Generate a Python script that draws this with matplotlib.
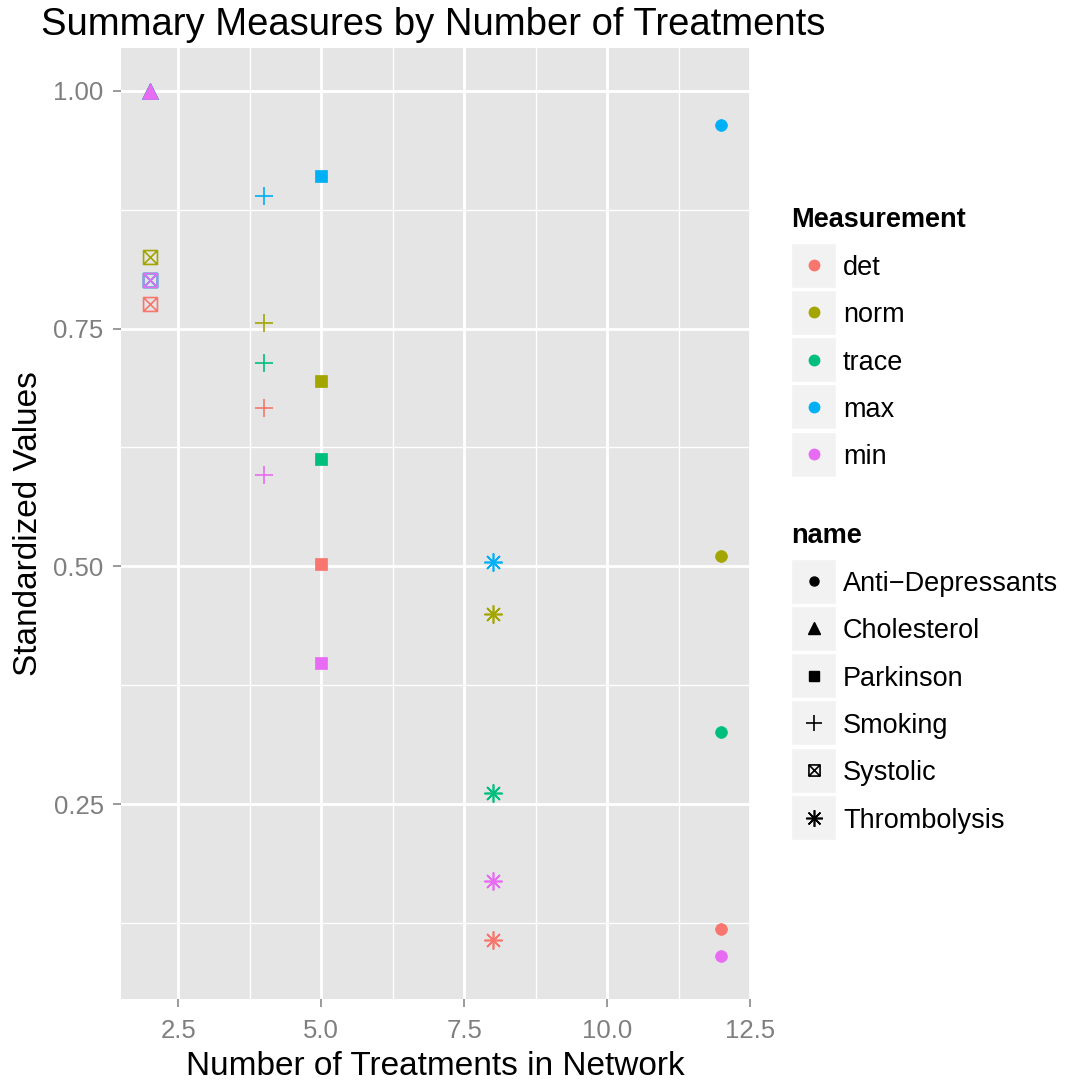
import matplotlib
matplotlib.use("Agg")
import matplotlib.pyplot as plt
from matplotlib.path import Path
from matplotlib.lines import Line2D
from matplotlib.patches import Rectangle

plt.rcParams['font.family'] = ['Liberation Sans', 'DejaVu Sans']

# ---------------- data ----------------
measurements = ["det", "norm", "trace", "max", "min"]
colors = ["#F8766D", "#A3A500", "#00BF7D", "#00B0F6", "#E76BF3"]
names = ["Anti\u2212Depressants", "Cholesterol", "Parkinson", "Smoking", "Systolic", "Thrombolysis"]
n_treat = [12, 2, 5, 4, 2, 8]
# values per name, in order det, norm, trace, max, min
vals_antidep = [0.119, 0.511, 0.326, 0.964, 0.0905]
vals_chol = [1.0, 1.0, 1.0, 1.0, 1.0]
vals_park = [0.502, 0.695, 0.613, 0.910, 0.398]
vals_smok = [0.666, 0.756, 0.714, 0.889, 0.596]
vals_syst = [0.7755, 0.825, 0.801, 0.801, 0.801]
vals_thromb = [0.107, 0.450, 0.2615, 0.505, 0.169]
all_vals = [vals_antidep, vals_chol, vals_park, vals_smok, vals_syst, vals_thromb]

x_ticks = [2.5, 5.0, 7.5, 10.0, 12.5]
x_labels = ["2.5", "5.0", "7.5", "10.0", "12.5"]
y_ticks = [0.25, 0.50, 0.75, 1.00]
y_labels = ["0.25", "0.50", "0.75", "1.00"]

# ---------------- markers ----------------
boxx = Path([(-1, -1), (1, -1), (1, 1), (-1, 1), (-1, -1),
             (-1, -1), (1, 1), (-1, 1), (1, -1)],
            [Path.MOVETO, Path.LINETO, Path.LINETO, Path.LINETO, Path.CLOSEPOLY,
             Path.MOVETO, Path.LINETO, Path.MOVETO, Path.LINETO])
marker_spec = {
    "Anti\u2212Depressants": dict(marker='o', ms=8.5, filled=True),
    "Cholesterol": dict(marker='^', ms=11, filled=True),
    "Parkinson": dict(marker='s', ms=8.5, filled=True),
    "Smoking": dict(marker='+', ms=13, filled=False),
    "Systolic": dict(marker=boxx, ms=10, filled=False),
    "Thrombolysis": dict(marker=(8, 2, 0), ms=13, filled=False),
}

W, H = 1067, 1082
fig = plt.figure(figsize=(W / 100, H / 100), dpi=100)
left, right, top, bottom = 121, 750, 47.5, 999
ax = fig.add_axes([left / W, 1 - bottom / H, (right - left) / W, (bottom - top) / H])
ax.set_facecolor("#E5E5E5")
for s in ax.spines.values():
    s.set_visible(False)

xmin, xmax = 2, 12
ax.set_xlim(xmin - 0.05 * (xmax - xmin), xmax + 0.05 * (xmax - xmin))
flat = [v for vs in all_vals for v in vs]
ymn, ymx = min(flat), max(flat)
ax.set_ylim(ymn - 0.05 * (ymx - ymn), ymx + 0.05 * (ymx - ymn))

ax.set_xticks(x_ticks)
ax.set_xticklabels(x_labels)
ax.set_yticks(y_ticks)
ax.set_yticklabels(y_labels)
ax.set_xticks([3.75, 6.25, 8.75, 11.25], minor=True)
ax.set_yticks([0.125, 0.375, 0.625, 0.875], minor=True)
ax.grid(which='major', color='white', lw=2.0)
ax.grid(which='minor', color='white', lw=0.95)
ax.set_axisbelow(True)
ax.tick_params(which='major', length=6, width=1.1, color='#7F7F7F', labelsize=18.5,
               labelcolor='#7F7F7F')
ax.tick_params(axis='y', which='major', pad=6.5)
ax.tick_params(axis='x', which='major', pad=8.5)
ax.tick_params(which='minor', length=0)

for nm, xv, vs in zip(names, n_treat, all_vals):
    sp = marker_spec[nm]
    for c, v in zip(colors, vs):
        if sp['filled']:
            ax.plot([xv], [v], linestyle='none', marker=sp['marker'], ms=sp['ms'],
                    mfc=c, mec=c, mew=0.5)
        else:
            ax.plot([xv], [v], linestyle='none', marker=sp['marker'], ms=sp['ms'],
                    mfc='none', mec=c, mew=1.2)

def fy(py):
    return 1 - py / H

# axis titles and plot title
fig.text((left + right) / 2 / W, fy(1075), "Number of Treatments in Network",
         fontsize=24, ha='center', va='baseline')
fig.text(37 / W, fy((top + bottom) / 2), "Standardized Values", fontsize=24,
         rotation=90, rotation_mode='anchor', ha='center', va='baseline')
fig.text(41 / W, fy(35), "Summary Measures by Number of Treatments",
         fontsize=27.5, ha='left', va='baseline')

# ---------------- legends (drawn manually) ----------------
kx0, kw, kh, step = 791, 45, 45, 47.3
fig.text(kx0 / W, fy(227), "Measurement", fontsize=19.5, fontweight='bold', va='baseline')
for i, (m, c) in enumerate(zip(measurements, colors)):
    cy = 265 + i * step
    fig.patches.append(Rectangle((kx0 / W, fy(cy + kh / 2)), kw / W, kh / H,
                                 transform=fig.transFigure, facecolor='#F2F2F2',
                                 edgecolor='white', lw=1))
    fig.lines.append(Line2D([(kx0 + kw / 2) / W], [fy(cy)], transform=fig.transFigure,
                            marker='o', ms=7.5, mfc=c, mec=c, linestyle='none'))
    fig.text(843 / W, fy(cy + 10), m, fontsize=19.5, va='baseline')

fig.text(kx0 / W, fy(543), "name", fontsize=19.5, fontweight='bold', va='baseline')
legend_ms = {"Anti\u2212Depressants": 6.5, "Cholesterol": 9, "Parkinson": 7,
             "Smoking": 12, "Systolic": 8, "Thrombolysis": 12}
for i, nm in enumerate(names):
    cy = 581 + i * step
    sp = marker_spec[nm]
    fig.patches.append(Rectangle((kx0 / W, fy(cy + kh / 2)), kw / W, kh / H,
                                 transform=fig.transFigure, facecolor='#F2F2F2',
                                 edgecolor='white', lw=1))
    ms = legend_ms[nm]
    if sp['filled']:
        fig.lines.append(Line2D([(kx0 + kw / 2) / W], [fy(cy)], transform=fig.transFigure,
                                marker=sp['marker'], ms=ms, mfc='black', mec='black',
                                linestyle='none'))
    else:
        fig.lines.append(Line2D([(kx0 + kw / 2) / W], [fy(cy)], transform=fig.transFigure,
                                marker=sp['marker'], ms=ms, mfc='none', mec='black',
                                mew=1.2, linestyle='none'))
    fig.text(843 / W, fy(cy + 10), nm, fontsize=19.5, va='baseline')

fig.savefig("out.png", dpi=100, facecolor='white')
